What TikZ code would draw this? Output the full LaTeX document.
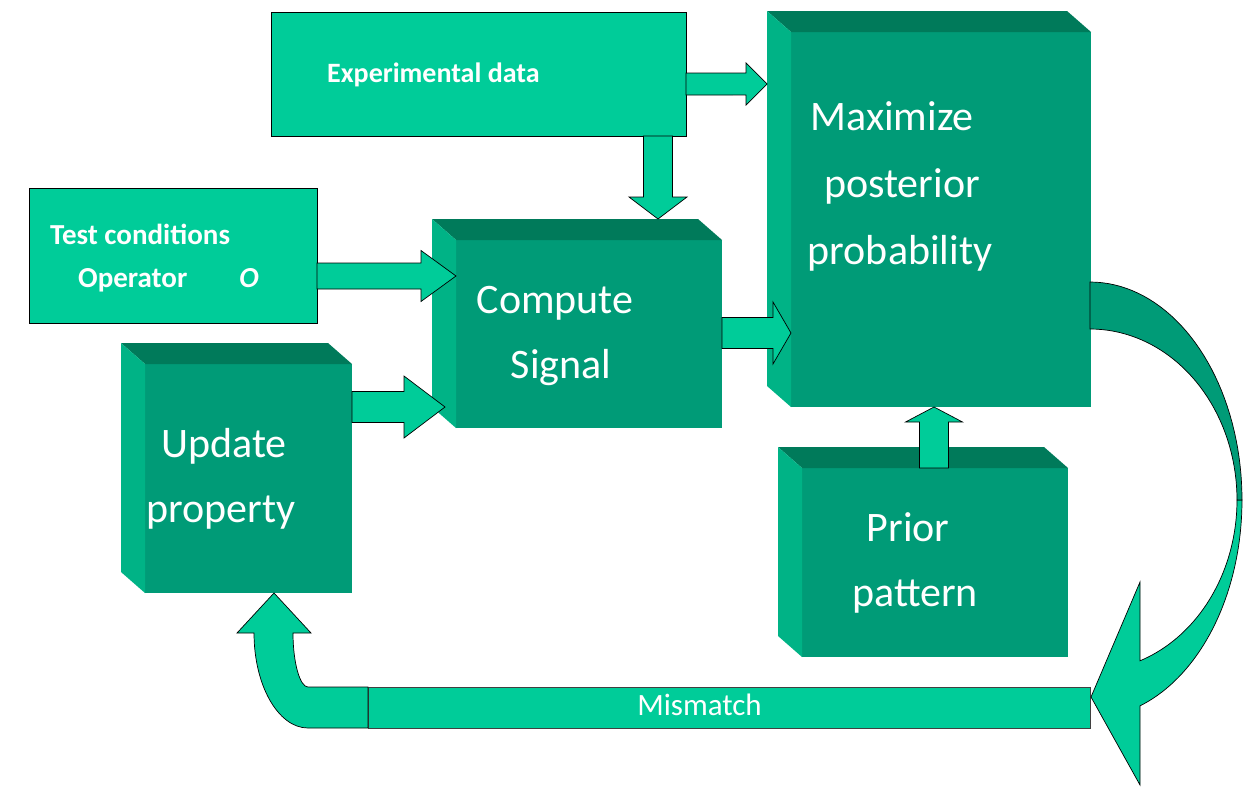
\documentclass[tikz,border=0pt]{standalone}
\usepackage{fontspec}
\setmainfont{Carlito}
\usetikzlibrary{calc}

\definecolor{lightgreen}{HTML}{00CC99}
\definecolor{frontgreen}{HTML}{009B77}
\definecolor{topgreen}{HTML}{007A5A}
\definecolor{sidegreen}{HTML}{00B386}

\tikzset{
  slabfront/.style={rectangle, fill=frontgreen, draw=none, inner sep=0pt, outer sep=0pt},
  slabtop/.style={fill=topgreen},
  slabside/.style={fill=sidegreen},
  flatbox/.style={rectangle, fill=lightgreen, draw=black, line width=0.8pt, inner sep=0pt, outer sep=0pt},
  blockfill/.style={fill=lightgreen, draw=black, line width=0.7pt, line join=miter},
  bandfill/.style={fill=frontgreen, draw=black, line width=0.7pt},
  smalltext/.style={text=white, font=\bfseries\fontsize{28}{32}\selectfont, inner sep=0pt},
  bigtext/.style={text=white, font=\fontsize{42}{50}\selectfont, inner sep=0pt, anchor=base},
  bartext/.style={text=white, font=\fontsize{31}{36}\selectfont, inner sep=0pt, anchor=base},
}

% a box seen in perspective: front face node plus top and left faces
% #1 name, #2 left, #3 top, #4 width, #5 height of the front face
\newcommand\greenslab[5]{%
  \node[slabfront, anchor=north west, minimum width=#4pt, minimum height=#5pt] (#1) at (#2,#3) {};
  \coordinate (#1-back) at ($(#1.north west)+(-24,-21)$);
  \fill[slabtop] (#1.north west) -- (#1-back) -- ++(#4,0) -- (#1.north east) -- cycle;
  \fill[slabside] (#1.north west) -- (#1-back) -- ++(0,#5) -- (#1.south west) -- cycle;
}

% wide block arrow between two named points
% #1 shaft half-width, #2 head half-width, #3 head length, #4 from, #5 to
\newcommand\blockarrow[5]{%
  \pgfmathsetmacro\arrBa{atan(#1/#3)}%
  \pgfmathsetmacro\arrBd{veclen(#1,#3)}%
  \pgfmathsetmacro\arrHa{atan(#2/#3)}%
  \pgfmathsetmacro\arrHd{veclen(#2,#3)}%
  \filldraw[blockfill]
    ($(#4)!#1pt!90:(#5)$)
    -- ($(#5)!\arrBd pt!-\arrBa:(#4)$)
    -- ($(#5)!\arrHd pt!-\arrHa:(#4)$)
    -- (#5)
    -- ($(#5)!\arrHd pt!\arrHa:(#4)$)
    -- ($(#5)!\arrBd pt!\arrBa:(#4)$)
    -- ($(#4)!#1pt!-90:(#5)$)
    -- cycle;
}

\begin{document}
\begin{tikzpicture}[x=1pt, y=-1pt]
\useasboundingbox (0,0) rectangle (1252,787);

% solid blocks
\greenslab{max}{791}{32}{300}{375}
\greenslab{cs}{456}{240}{266}{188}
\greenslab{upd}{145}{364}{207}{229}
\greenslab{prior}{802}{468}{266}{189}

% flat input boxes
\node[flatbox, anchor=north west, minimum width=415pt, minimum height=124pt] (exp) at (271,12) {};
\node[flatbox, anchor=north west, minimum width=288pt, minimum height=135pt] (tc) at (29,188) {};

% labels
\node[smalltext, anchor=base west] (exptext) at ($(exp.north west)+(56,70)$) {Experimental data};
\node[smalltext, anchor=base west, font=\bfseries\fontsize{29}{32}\selectfont] (tctext1) at ($(tc.north west)+(21,56)$) {Test conditions};
\node[smalltext, anchor=base west, font=\bfseries\fontsize{29}{32}\selectfont] (tctext2) at ($(tc.north west)+(49,99)$) {Operator\hspace{52pt}\textit{O}};

\node[bigtext] (maxt1) at (892,130) {Maximize};
\node[bigtext] (maxt2) at (902,197) {posterior};
\node[bigtext] (maxt3) at (900,264) {probability};
\node[bigtext] (cst1) at (555,313) {Compute};
\node[bigtext] (cst2) at (561,378) {Signal};
\node[bigtext] (updt1) at (224,457) {Update};
\node[bigtext] (updt2) at (221,522) {property};
\node[bigtext] (priort1) at (908,541) {Prior};
\node[bigtext] (priort2) at (915,606) {pattern};

% straight block arrows
\coordinate (a1s) at ($(exp.east)+(0,10)$);
\coordinate (a1t) at (a1s -| max-back);
\blockarrow{11}{21}{21}{a1s}{a1t}

\coordinate (a2s) at ($(exp.south east)+(-28,0)$);
\coordinate (a2t) at (a2s |- cs-back);
\blockarrow{14.5}{29}{22}{a2s}{a2t}

\coordinate (a3s) at ($(tc.east)+(0,20.5)$);
\coordinate (a3t) at (a3s -| cs.west);
\blockarrow{13}{25.5}{35}{a3s}{a3t}

\coordinate (a4s) at ($(upd.east)+(0,-71.5)$);
\coordinate (a4t) at ($(a4s -| cs.west)+(-11,0)$);
\blockarrow{15.5}{31}{41}{a4s}{a4t}

\coordinate (a5s) at ($(cs.east)+(0,-1)$);
\coordinate (a5t) at (a5s -| max.west);
\blockarrow{15.5}{31}{18}{a5s}{a5t}

\coordinate (a6s) at ($(prior.north west)+(132,0)$);
\coordinate (a6t) at (a6s |- max.south);
\blockarrow{14.5}{28.5}{15}{a6s}{a6t}

% mismatch bar
\node[flatbox, draw=black!75, line width=0.6pt, anchor=north west, minimum width=722pt, minimum height=41pt] (mis) at (368,687) {};
\node[bartext] (mistext) at ($(mis.south west)+(331.5,-13)$) {Mismatch};

% return arrow from the bar up into the update block
\coordinate (uptip) at ($(upd.south)+(25.5,0)$);
\filldraw[blockfill]
  (mis.south west) -- ++(-60,0)
  .. controls +(-30,0) and +(0,52) .. ++(-54,-95)
  -- ++(-17,0) -- (uptip) -- ++(37,40) -- ++(-18,0)
  .. controls +(0,30) and +(-8,0) .. ++(15,54)
  -- (mis.north west) -- cycle;

% curved arrow from the posterior block down to the bar
\coordinate (cc) at ($(max.south east)+(-1,93)$);
\filldraw[blockfill, shift={(cc)}]
  plot[domain=0:-70.8, samples=40] ({152*cos(\x)},{-218*sin(\x)})
  -- (50,285) -- (1,197) -- (50,82)
  -- plot[domain=-70.1:0, samples=40] ({147*cos(\x)},{-171*sin(\x)})
  -- cycle;
\filldraw[bandfill, shift={(cc)}]
  plot[domain=90:0, samples=40] ({152*cos(\x)},{-218*sin(\x)})
  -- plot[domain=0:90, samples=40] ({147*cos(\x)},{-171*sin(\x)})
  -- cycle;

\end{tikzpicture}
\end{document}
